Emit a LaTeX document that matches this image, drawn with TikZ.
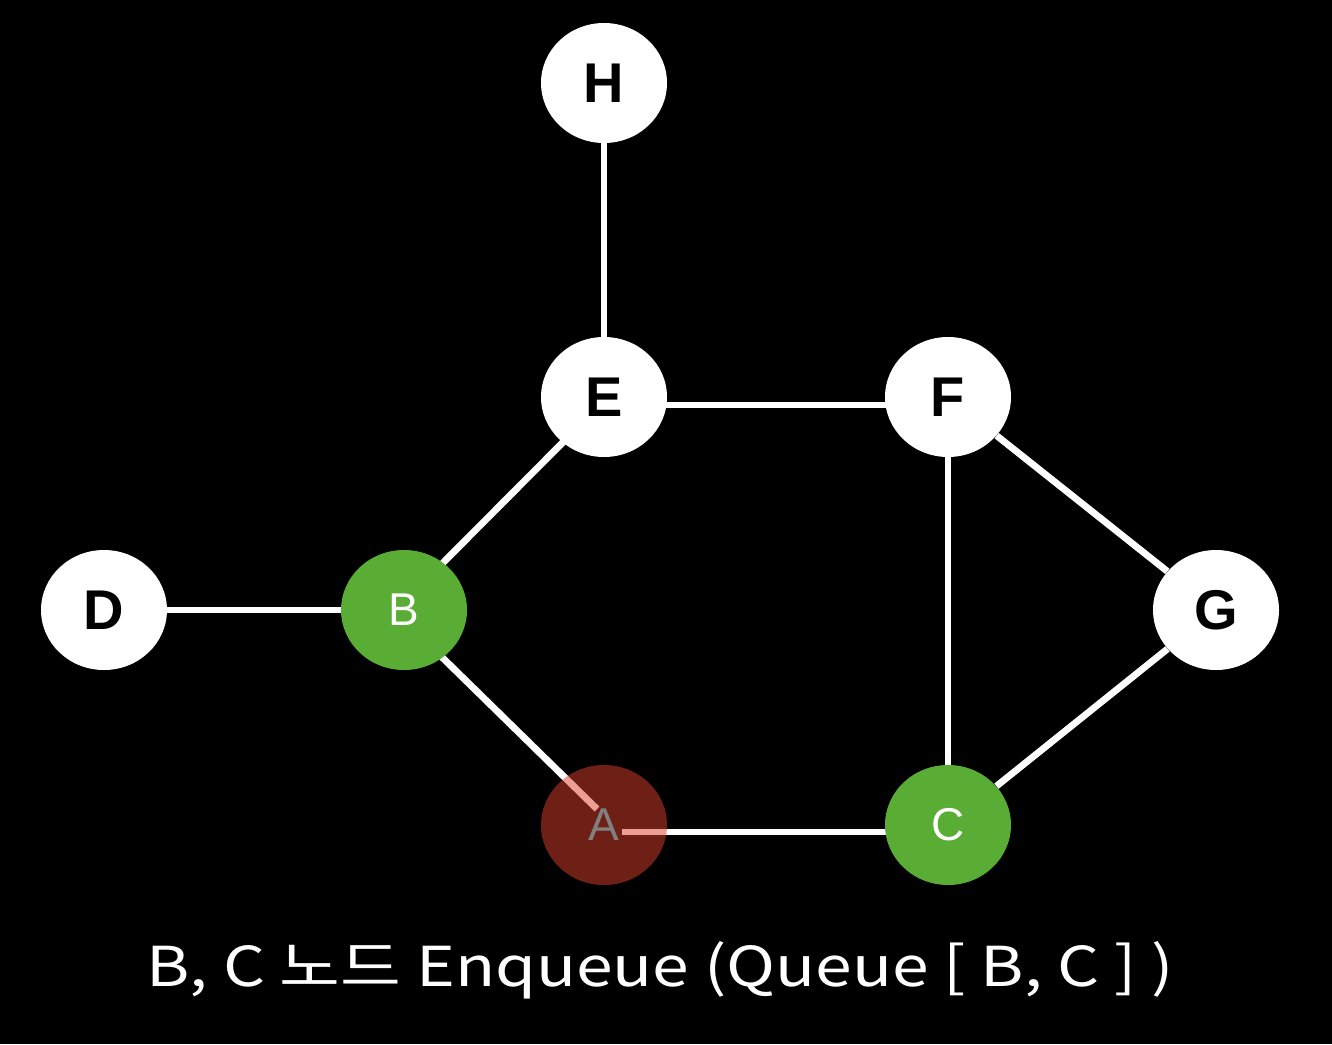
\documentclass[tikz,border=0pt]{standalone}
\usepackage{fontspec}
\setmainfont{Liberation Sans}
\newfontfamily\krfont{Noto Sans CJK KR}
\usetikzlibrary{positioning, shapes.geometric, backgrounds}
\definecolor{visgreen}{RGB}{89, 173, 52}
\definecolor{curred}{RGB}{220, 62, 44}
\definecolor{curtext}{RGB}{128, 128, 128}

\begin{document}
\begin{tikzpicture}[
  x=0.5pt, y=-0.5pt,
  % --- Styles ---
  gnode/.style={
    ellipse, minimum width=63pt, minimum height=60pt, inner sep=0pt,
    align=center},
  wnode/.style={gnode, fill=white, text=black,
    font=\fontsize{28}{28}\selectfont\bfseries},
  qnode/.style={gnode, fill=visgreen, text=white,
    font=\fontsize{23}{23}\selectfont},
  cnode/.style={gnode, fill=curred, fill opacity=0.5, text opacity=1,
    text=curtext, font=\fontsize{23}{23}\selectfont},
  edge/.style={draw=white, line width=3.4pt},
]
% === NODES ===
\node[wnode] (H) at (604,83) {H};
\node[wnode] (E) at (604,397) {E};
\node[wnode] (F) at (948,397) {F};
\node[wnode] (D) at (104,610) {D};
\node[qnode] (B) at (404,610) {B};
\node[wnode] (G) at (1216,610) {G};
\node[qnode] (C) at (948,825) {C};

% === EDGES ===
\begin{scope}[on background layer]
\fill[black] (0,0) rectangle (1332,1044);
\draw[edge] (H) -- (E);
\draw[edge] ([yshift=-4pt]E.center) -- ([yshift=-4pt]F.center);
\draw[edge] ([yshift=-2pt]E.center) -- ([yshift=4pt]B.center);
\draw[edge] (D) -- (B);
\draw[edge] (F) -- (G);
\draw[edge] (F) -- (C);
\draw[edge] (G) -- (C);
\coordinate (Ain) at (597,809);
\coordinate (Aout) at (622,832);
\draw[edge] ([yshift=-5pt]B.center) -- (Ain);
\draw[edge] (Aout) -- ([yshift=-3.5pt]C.center);
\end{scope}

% current node (drawn over its edges)
\node[cnode] (A) at (604,825) {A};

% === CAPTION ===
\node[text=white, font=\krfont\fontsize{27.5}{30}\selectfont] (cap)
  at (660,970) {\scalebox{1.2}[1]{B, C 노드 Enqueue (Queue [ B, C ] )}};
\end{tikzpicture}
\end{document}
